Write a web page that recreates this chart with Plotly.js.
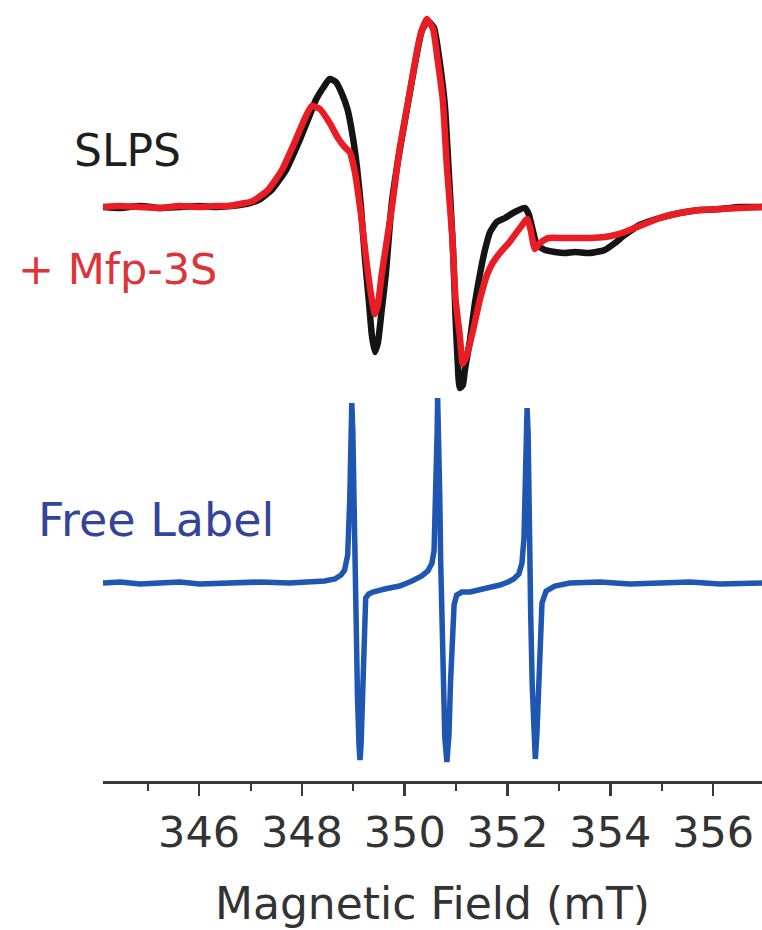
<!DOCTYPE html>
<html>
<head>
<meta charset="utf-8">
<script src="https://cdn.plot.ly/plotly-3.0.1.min.js"></script>
<style>
  html, body { margin: 0; padding: 0; background: #ffffff; }
  #chart { width: 762px; height: 930px; }
</style>
</head>
<body>
<div id="chart"></div>
<script>
// ---------- data (magnetic field in mT, EPR derivative intensity in a.u.) ----------
const fieldSLPS = [344.13,344.46,344.85,345.24,345.62,346.01,346.31,346.60,346.79,346.99,347.16,347.41,347.69,347.94,348.13,348.27,348.41,348.54,348.66,348.78,348.89,348.99,349.07,349.15,349.22,349.30,349.36,349.42,349.48,349.55,349.63,349.75,349.90,350.06,350.22,350.33,350.45,350.57,350.68,350.78,350.86,350.94,350.99,351.03,351.07,351.13,351.17,351.27,351.36,351.46,351.56,351.66,351.79,351.95,352.14,352.34,352.41,352.49,352.57,352.73,352.92,353.11,353.31,353.60,353.89,354.09,354.28,354.57,354.96,355.35,355.74,356.13,356.52,356.95];
const intensitySLPS = [0,-1,1,-1,0,1,0,1,2,4,7,17,37,65,89,107,119,128,125,113,97,70,40,-1,-48,-93,-128,-145,-135,-104,-68,5,56,103,149,176,186,179,145,102,32,-43,-113,-155,-181,-178,-163,-133,-98,-68,-43,-25,-15,-11,-5,-1,-7,-23,-38,-43,-45,-46,-45,-46,-43,-36,-28,-18,-11,-6,-3,-2,0,0];

const fieldMfp = [344.13,344.46,344.85,345.24,345.62,346.01,346.31,346.60,346.79,346.99,347.08,347.34,347.61,347.86,348.06,348.19,348.35,348.54,348.70,348.83,348.93,349.03,349.07,349.15,349.24,349.34,349.42,349.48,349.55,349.63,349.77,349.85,349.90,350.06,350.22,350.29,350.37,350.43,350.55,350.64,350.74,350.82,350.92,350.99,351.07,351.13,351.21,351.33,351.46,351.60,351.71,351.85,352.04,352.24,352.38,352.45,352.53,352.63,352.79,353.11,353.60,353.89,354.09,354.28,354.57,354.96,355.35,355.74,356.13,356.52,356.95];
const intensityMfp = [0,1,0,-1,1,0,1,1,3,5,7,17,37,65,89,101,98,84,69,60,55,35,22,-8,-48,-86,-107,-97,-68,-41,7,40,58,104,151,169,182,188,178,147,107,40,-26,-93,-128,-157,-148,-123,-93,-68,-56,-46,-35,-21,-12,-23,-42,-36,-31,-31,-31,-30,-28,-25,-19,-11,-6,-3,-2,-1,0];

const fieldFree = [344.13,344.46,344.85,345.24,345.62,346.01,346.60,347.18,347.76,348.15,348.44,348.64,348.76,348.83,348.89,348.93,348.95,348.97,348.99,349.01,349.03,349.05,349.08,349.11,349.13,349.15,349.18,349.20,349.24,349.30,349.38,349.61,349.90,350.14,350.33,350.45,350.53,350.57,350.61,350.63,350.64,350.66,350.68,350.70,350.72,350.75,350.78,350.82,350.86,350.89,350.92,350.96,351.01,351.11,351.27,351.46,351.66,351.85,352.01,352.12,352.22,352.28,352.32,352.35,352.38,352.40,352.41,352.43,352.45,352.48,352.51,352.54,352.57,352.60,352.63,352.67,352.75,352.92,353.21,353.80,354.38,354.96,355.55,356.13,356.95];
const intensityFree = [0,1,-1,0,1,-1,0,1,0,1,2,4,8,13,28,83,145,180,152,80,0,-60,-112,-162,-177,-162,-110,-60,-15,-11,-9,-6,-3,2,7,12,20,32,92,150,185,152,90,20,-40,-102,-155,-179,-152,-100,-55,-22,-12,-9,-9,-7,-5,-2,1,4,9,20,45,122,175,150,100,30,-30,-102,-152,-176,-152,-100,-50,-20,-8,-3,0,1,-1,0,1,-1,0];

const majorTicks = [346, 348, 350, 352, 354, 356];
const axisTitle = 'Magnetic Field (mT)';
const seriesLabels = ['SLPS', '+ Mfp-3S', 'Free Label'];

// ---------- vertical stacking of the spectra ----------
const offsetTop = 574;
const offsetFree = 198;
const shift = (arr, off) => arr.map(v => v + off);

// plot-area geometry helpers (pixels -> paper)
const L = 103, R = 0, T = 0, B = 149, W = 762, H = 930;
const pw = W - L - R, ph = H - T - B;
const px = x => (x - L) / pw;
const py = y => 1 - (y - T) / ph;

const FONT = 'DejaVu Sans';

const traces = [
  { x: fieldSLPS, y: shift(intensitySLPS, offsetTop), mode: 'lines',
    line: { color: '#141414', width: 6.5, shape: 'spline', smoothing: 0.5 }, name: seriesLabels[0], hoverinfo: 'skip' },
  { x: fieldMfp, y: shift(intensityMfp, offsetTop), mode: 'lines',
    line: { color: '#ea1d25', width: 6.5, shape: 'spline', smoothing: 0.5 }, name: seriesLabels[1], hoverinfo: 'skip' },
  { x: fieldFree, y: shift(intensityFree, offsetFree), mode: 'lines',
    line: { color: '#1f56b2', width: 5.5 }, name: seriesLabels[2], hoverinfo: 'skip' }
];

const layout = {
  width: W, height: H,
  margin: { l: L, r: R, t: T, b: B, pad: 0 },
  paper_bgcolor: '#ffffff', plot_bgcolor: '#ffffff',
  showlegend: false,
  xaxis: {
    range: [344.13, 356.95],
    showline: true, linecolor: '#3a3a3a', linewidth: 2.5,
    showgrid: false, zeroline: false,
    ticks: 'outside', ticklen: 12, tickwidth: 2.5, tickcolor: '#3a3a3a',
    tickmode: 'array', tickvals: majorTicks, ticktext: majorTicks.map(String),
    minor: { tickmode: 'linear', tick0: 345, dtick: 2, ticks: 'outside', ticklen: 7, tickwidth: 2, tickcolor: '#3a3a3a', showgrid: false },
    tickfont: { family: FONT, size: 43, color: '#333333' },
    title: { text: axisTitle, font: { family: FONT, size: 44, color: '#333333' }, standoff: 32 }
  },
  yaxis: { visible: false, range: [0, 781], fixedrange: true },
  annotations: [
    { text: seriesLabels[0], xref: 'paper', yref: 'paper', x: px(127), y: py(150), xanchor: 'center', yanchor: 'middle',
      showarrow: false, font: { family: FONT, size: 44, color: '#1e1e1e' } },
    { text: seriesLabels[1], xref: 'paper', yref: 'paper', x: px(117), y: py(269), xanchor: 'center', yanchor: 'middle',
      showarrow: false, font: { family: FONT, size: 43, color: '#dc3439' } },
    { text: seriesLabels[2], xref: 'paper', yref: 'paper', x: px(156), y: py(520), xanchor: 'center', yanchor: 'middle',
      showarrow: false, font: { family: FONT, size: 46, color: '#34449a' } }
  ]
};

Plotly.newPlot('chart', traces, layout, { displayModeBar: false, staticPlot: true });
</script>
</body>
</html>
